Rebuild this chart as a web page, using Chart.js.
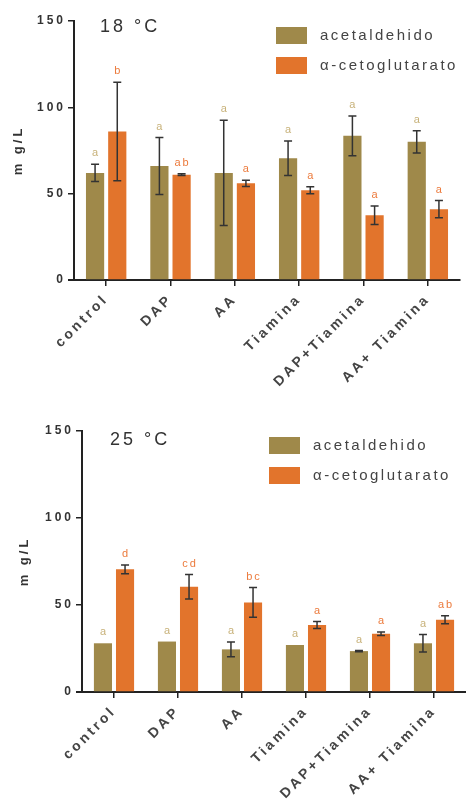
<!DOCTYPE html>
<html lang="es">
<head>
<meta charset="utf-8">
<title>acetaldehido y α-cetoglutarato</title>
<script src="https://cdn.jsdelivr.net/npm/chart.js@4.4.0/dist/chart.umd.min.js"></script>
<style>
  html, body { margin: 0; padding: 0; background: #fff; }
  canvas { display: block; }
</style>
</head>
<body>
<canvas id="grafico18" width="466" height="403"></canvas>
<canvas id="grafico25" width="466" height="403"></canvas>
<script>
// Datos
const categorias = ['control', 'DAP', 'AA', 'Tiamina', 'DAP+Tiamina', 'AA+ Tiamina'];
const ticksY = [0, 50, 100, 150];
const series = ['acetaldehido', 'α-cetoglutarato'];

// 18 °C
const acet18 = [62, 66, 62, 70.5, 83.5, 80];
const acet18Err = [5, 16.5, 30.5, 10, 11.5, 6.5];
const acet18Letras = ['a', 'a', 'a', 'a', 'a', 'a'];
const ceto18 = [86, 61, 56, 52, 37.5, 41];
const ceto18Err = [28.5, 0.5, 1.8, 2, 5.4, 5];
const ceto18Letras = ['b', 'ab', 'a', 'a', 'a', 'a'];

// 25 °C
const acet25 = [28, 29, 24.5, 27, 23.5, 28];
const acet25Err = [0, 0, 4.3, 0, 0.3, 5];
const acet25Letras = ['a', 'a', 'a', 'a', 'a', 'a'];
const ceto25 = [70.5, 60.5, 51.5, 38.5, 33.5, 41.5];
const ceto25Err = [2.5, 7, 8.5, 2, 1, 2.3];
const ceto25Letras = ['d', 'cd', 'bc', 'a', 'a', 'ab'];

const COLOR_ACET = '#9f894a';
const COLOR_CETO = '#e2742c';
const LETRA_ACET = '#c8b27a';
const LETRA_CETO = '#ec7b3d';
const FUENTE = '"Liberation Sans", Arial, sans-serif';

// Barras de error, letras, título y leyenda
const pluginExtras = {
    id: 'extras',
    beforeUpdate(chart) { chart.ctx.letterSpacing = '3px'; },
    beforeDraw(chart) { chart.ctx.letterSpacing = '3px'; },
    afterDatasetsDraw(chart) {
        const ctx = chart.ctx;
        const y = chart.scales.y;
        ctx.save();
        chart.data.datasets.forEach((ds, d) => {
            const meta = chart.getDatasetMeta(d);
            meta.data.forEach((bar, i) => {
                const v = ds.data[i];
                const e = ds.errores[i];
                let tope = bar.y;
                if (e > 0) {
                    const yA = y.getPixelForValue(v + e);
                    const yB = y.getPixelForValue(v - e);
                    ctx.strokeStyle = '#333';
                    ctx.lineWidth = 1.5;
                    ctx.beginPath();
                    ctx.moveTo(bar.x, yA); ctx.lineTo(bar.x, yB);
                    ctx.moveTo(bar.x - 4, yA); ctx.lineTo(bar.x + 4, yA);
                    ctx.moveTo(bar.x - 4, yB); ctx.lineTo(bar.x + 4, yB);
                    ctx.stroke();
                    tope = Math.min(yA, bar.y);
                }
                ctx.fillStyle = ds.colorLetra;
                ctx.font = '11px ' + FUENTE;
                ctx.letterSpacing = '2px';
                ctx.textAlign = 'center';
                ctx.textBaseline = 'alphabetic';
                ctx.fillText(ds.letras[i], bar.x + 1, tope - 8);
            });
        });
        ctx.restore();
    },
    afterDraw(chart, args, opts) {
        const ctx = chart.ctx;
        const area = chart.chartArea;
        ctx.save();
        // el eje x asoma un poco a la izquierda del eje y
        ctx.strokeStyle = '#222';
        ctx.lineWidth = 2;
        ctx.beginPath();
        ctx.moveTo(area.left - 6, area.bottom);
        ctx.lineTo(area.left, area.bottom);
        ctx.stroke();
        // Temperatura
        ctx.fillStyle = '#333';
        ctx.font = '18px ' + FUENTE;
        ctx.letterSpacing = '3px';
        ctx.textAlign = 'left';
        ctx.textBaseline = 'middle';
        ctx.fillText(opts.titulo, opts.tituloX, opts.tituloY);
        // Leyenda
        ctx.font = '15px ' + FUENTE;
        ctx.letterSpacing = '2.5px';
        chart.data.datasets.forEach((ds, d) => {
            const by = opts.leyenda.y + d * 30;
            ctx.fillStyle = ds.backgroundColor;
            ctx.fillRect(opts.leyenda.x, by, 31, 17);
            ctx.fillStyle = '#444';
            ctx.fillText(ds.label, opts.leyenda.x + 44, by + 9);
        });
        ctx.restore();
    }
};

function crearGrafico(id, cfg) {
    const ctx = document.getElementById(id).getContext('2d');
    return new Chart(ctx, {
        type: 'bar',
        data: {
            labels: categorias,
            datasets: [
                { label: series[0], data: cfg.acet, errores: cfg.acetErr, letras: cfg.acetLetras,
                  backgroundColor: COLOR_ACET, colorLetra: LETRA_ACET },
                { label: series[1], data: cfg.ceto, errores: cfg.cetoErr, letras: cfg.cetoLetras,
                  backgroundColor: COLOR_CETO, colorLetra: LETRA_CETO }
            ]
        },
        options: {
            responsive: false,
            animation: false,
            layout: { padding: cfg.padding },
            datasets: { bar: { categoryPercentage: 0.69, barPercentage: 0.82 } },
            plugins: {
                legend: { display: false },
                tooltip: { enabled: false },
                extras: { titulo: cfg.titulo, tituloX: cfg.tituloX, tituloY: cfg.tituloY, leyenda: cfg.leyenda }
            },
            scales: {
                x: {
                    grid: { offset: false, drawOnChartArea: false, drawTicks: true, tickLength: 6, color: '#222', lineWidth: 1.5 },
                    border: { display: true, color: '#222', width: 2 },
                    ticks: { autoSkip: false, maxRotation: 45, minRotation: 45, padding: 5, color: '#444',
                             font: { family: FUENTE, size: 14, weight: 'bold' } },
                    afterFit: s => { s.height = cfg.altoX; s.paddingLeft = 0; s.paddingRight = 0; }
                },
                y: {
                    min: 0, max: 150,
                    afterBuildTicks: s => { s.ticks = ticksY.map(v => ({ value: v })); },
                    grid: { drawOnChartArea: false, drawTicks: true, tickLength: 6, color: '#222', lineWidth: 1.5 },
                    border: { display: true, color: '#222', width: 2 },
                    ticks: { padding: 2, color: '#333', font: { family: FUENTE, size: 12, weight: 'bold' } },
                    title: { display: true, text: 'm g/L', color: '#333', padding: { top: cfg.tituloEjePad, bottom: 0 },
                             font: { family: FUENTE, size: 13, weight: 'bold' } },
                    afterFit: s => { s.width = cfg.anchoY; s.paddingTop = 0; s.paddingBottom = 0; }
                }
            }
        },
        plugins: [pluginExtras]
    });
}

document.addEventListener('DOMContentLoaded', function() {
    crearGrafico('grafico18', {
        acet: acet18, acetErr: acet18Err, acetLetras: acet18Letras,
        ceto: ceto18, cetoErr: ceto18Err, cetoLetras: ceto18Letras,
        titulo: '18 °C', tituloX: 100, tituloY: 27, leyenda: { x: 276, y: 27 },
        padding: { top: 21, right: 6, left: 0, bottom: 0 },
        altoX: 123, anchoY: 74, tituloEjePad: 11
    });
    crearGrafico('grafico25', {
        acet: acet25, acetErr: acet25Err, acetLetras: acet25Letras,
        ceto: ceto25, cetoErr: ceto25Err, cetoLetras: ceto25Letras,
        titulo: '25 °C', tituloX: 110, tituloY: 37, leyenda: { x: 269, y: 34 },
        padding: { top: 28, right: 0, left: 0, bottom: 0 },
        altoX: 114, anchoY: 82, tituloEjePad: 17
    });
});
</script>
</body>
</html>
